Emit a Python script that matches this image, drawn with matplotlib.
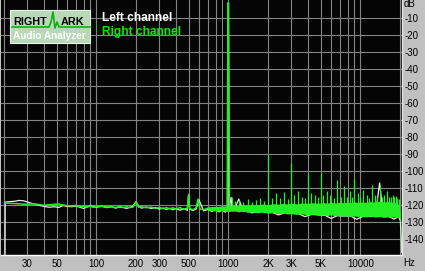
import matplotlib
matplotlib.use('Agg')
import matplotlib.pyplot as plt
from matplotlib.patches import Rectangle
from matplotlib.lines import Line2D


# _____DATA____

# left channel (white)
left_freq = [20.35, 20.4, 22, 24, 26, 28, 30, 33, 36, 40, 44, 48, 52, 56, 60, 65, 70, 75, 80, 85, 90,
             95, 100, 110, 120, 130, 140, 150, 160, 170, 180, 190, 200, 210, 220, 240, 260, 280, 300,
             320, 340, 360, 380, 400, 430, 460, 490, 500, 510, 540, 570, 600, 650, 700, 750, 800, 850,
             900, 950, 985, 1000, 1015, 1050, 1070, 1100, 1200, 1300, 1400, 1500, 1700, 1900, 2100,
             2400, 2700, 3000, 3400, 3800, 4300, 4800, 5400, 6000, 6700, 7500, 8400, 9400, 10500,
             11700, 13000, 14000, 15000, 16500, 18000, 19500, 20100, 20400, 20600]
left_db = [-149, -118.3, -118.0, -117.8, -117.3, -117.5, -118.2, -119.2, -120.0, -120.8, -121.3, -121.0,
           -121.4, -120.3, -120.8, -121.0, -120.6, -121.3, -122.0, -121.2, -120.4, -121.0, -121.3,
           -120.8, -121.5, -121.0, -121.8, -121.2, -121.5, -122.0, -121.3, -120.5, -118.0, -121.0,
           -121.8, -121.2, -122.0, -121.5, -122.4, -121.8, -122.6, -121.9, -122.8, -122.0, -123.0,
           -122.2, -123.1, -114.5, -122.5, -123.2, -122.4, -117.0, -123.4, -122.6, -123.8, -122.8,
           -124.0, -123.0, -124.2, -122.0, -1.5, -122.0, -115.5, -123.0, -123.5, -116.5, -123.6,
           -123.2, -124.6, -123.8, -124.0, -124.0, -125.8, -124.5, -125.0, -125.0, -126.8, -125.5,
           -125.8, -126.0, -127.9, -126.3, -126.5, -126.4, -128.4, -126.6, -126.7, -126.6, -107.0,
           -126.9, -126.8, -128.2, -127.0, -129.0, -138.0, -148.0]

# right channel (green), low part of the spectrum drawn as a line
right_freq = [20.3, 22, 25, 28, 30, 33, 36, 40, 44, 48, 52, 56, 60, 65, 70, 75, 80, 85, 90, 95, 100,
              110, 120, 130, 140, 150, 160, 170, 180, 190, 200, 210, 220, 240, 260, 280, 300, 320, 340,
              360, 380, 400, 430, 460, 490, 500, 510, 540, 570, 590, 610, 650, 700, 750, 800, 850, 900,
              950, 980, 990, 995, 1005, 1010, 1020]
right_db = [-118.8, -119.0, -119.2, -119.5, -119.6, -119.3, -119.6, -120.2, -119.8, -119.6, -119.4,
            -120.0, -120.4, -120.6, -120.3, -121.0, -120.7, -121.2, -120.6, -121.4, -121.0, -120.6,
            -121.2, -121.0, -121.6, -120.8, -121.4, -121.0, -121.5, -121.2, -118.2, -121.3, -121.0,
            -121.6, -121.2, -122.0, -121.4, -122.2, -121.5, -122.3, -121.6, -122.4, -121.5, -122.6,
            -121.8, -113.8, -122.0, -122.8, -121.6, -116.5, -122.3, -122.8, -121.8, -123.0, -122.0,
            -123.2, -121.8, -122.6, -121.5, -40.0, -1.0, -1.0, -40.0, -121.5]

# right channel noise band above ~700 Hz (upper and lower edge)
band_freq = [700, 800, 900, 1000, 1100, 1200, 1300, 1400, 1500, 1650, 1800, 2000, 2200, 2400, 2600,
             2800, 3000, 3300, 3600, 4000, 4400, 4800, 5200, 5600, 6000, 6500, 7000, 7500, 8000, 8500,
             9000, 9500, 10000, 11000, 12000, 13000, 14000, 15000, 16000, 17000, 18000, 19000, 19800,
             20100, 20300, 20500]
band_upper = [-121.0, -120.8, -120.5, -120.5, -119.8, -120.4, -119.6, -120.2, -119.5, -120.0, -119.4,
              -119.8, -119.2, -119.6, -119.0, -119.4, -118.8, -119.3, -118.8, -119.0, -118.6, -119.0,
              -118.5, -118.9, -118.4, -118.8, -118.3, -118.7, -118.2, -118.6, -118.1, -118.5, -118.2,
              -118.4, -118.0, -118.3, -117.8, -118.2, -117.9, -118.3, -118.5, -119.0, -120.5, -126.0,
              -135.0, -147.0]
band_lower = [-123.0, -123.5, -123.2, -123.8, -123.5, -124.0, -123.6, -124.3, -124.0, -124.6, -124.2,
              -124.8, -124.5, -125.0, -124.7, -125.3, -125.0, -125.5, -125.2, -125.8, -125.4, -126.0,
              -125.6, -126.2, -125.8, -126.4, -126.0, -126.5, -126.2, -126.7, -126.3, -126.8, -126.5,
              -127.0, -126.6, -127.1, -126.8, -127.2, -126.9, -127.3, -127.0, -127.3, -127.5, -130.0,
              -140.0, -148.0]

# right channel harmonic / spurious spikes
spike_freq = [1070, 1130, 1200, 1300, 1420, 1500, 1620, 1750, 1850, 2000, 2150, 2300, 2480, 2650,
              2820, 3000, 3150, 3350, 3600, 3800, 4000, 4200, 4500, 4750, 5000, 5250, 5600, 5900,
              6300, 6700, 7200, 7500, 7900, 8300, 8650, 9000, 9600, 10000, 10500, 11200, 11700, 12300,
              13000, 13500, 14000, 14600, 15200, 16000, 16600, 17000, 17600, 18000, 18600, 19000,
              19500]
spike_db = [-115, -117.5, -117, -118, -116.5, -118, -117, -116, -117.5, -90.5, -116, -113, -116,
            -112.5, -116.5, -95, -114, -112, -115, -116, -101, -113, -114, -115.5, -101, -114, -112,
            -114, -116, -105, -115, -109, -115.5, -112, -115, -104.5, -113, -115.5, -111, -114, -116,
            -108, -114, -115.5, -108, -115, -114, -112, -115.5, -115, -114, -115.5, -114.5, -116,
            -116.5]

x_ticks = [30, 50, 100, 200, 300, 500, 1000, 2000, 3000, 5000, 10000]
x_tick_labels = ['30', '50', '100', '200', '300', '500', '1000', '2K', '3K', '5K', '10000']
x_grid = [20, 40, 60, 70, 80, 90, 400, 600, 700, 800, 900, 4000, 6000, 7000, 8000, 9000, 20000]
y_ticks = list(range(-10, -150, -10))
y_tick_labels = ['{}'.format(v) for v in y_ticks]

W, H = 425, 271
BG = '#c0c0c0'
GREEN = '#22f022'
WHITE = '#e8e8e8'
GRID = '#848484'


def fx(px):
    # pixel x -> figure fraction
    return px / W


def fy(py):
    # pixel y -> figure fraction
    return 1 - py / H


plt.rcParams['font.family'] = ['Liberation Sans', 'DejaVu Sans']

fig = plt.figure(figsize=(W / 100, H / 100), dpi=100, facecolor=BG)
ax = fig.add_axes([fx(1), fy(255), fx(402) - fx(1), fy(0) - fy(255)])
ax.set_facecolor('#050505')
ax.set_xscale('log')
ax.set_xlim(18.96, 20700)
ax.set_ylim(-149.4, 0.6)

# grid
ax.set_xticks(x_ticks)
ax.set_xticklabels(x_tick_labels)
ax.set_xticks(x_grid, minor=True)
ax.set_yticks(y_ticks)
ax.set_yticklabels(y_tick_labels)
ax.grid(True, which='both', color=GRID, lw=0.8)
ax.set_axisbelow(True)
ax.yaxis.tick_right()
ax.tick_params(axis='both', which='both', length=0, labelsize=7, colors='black')
ax.tick_params(axis='x', pad=3)
ax.tick_params(axis='y', pad=2)
ax.xaxis.set_minor_formatter(plt.NullFormatter())
for lab in ax.get_yticklabels():
    lab.set_horizontalalignment('left')

for side in ['top', 'left']:
    ax.spines[side].set_visible(False)
ax.spines['bottom'].set_color('white')
ax.spines['right'].set_color('#e0e0e0')
ax.spines['bottom'].set_linewidth(1)
ax.spines['right'].set_linewidth(1)

# traces
ax.plot(left_freq, left_db, color=WHITE, lw=0.9, zorder=3)
ax.fill_between(band_freq, band_lower, band_upper, color=GREEN, lw=0, zorder=4)
ax.plot(right_freq, right_db, color=GREEN, lw=1.1, zorder=4)
ax.vlines(spike_freq, -121, spike_db, color=GREEN, lw=0.9, zorder=4)

# axis unit labels
fig.text(fx(404), fy(4), 'dB', fontsize=7, va='center', ha='left')
fig.text(fx(403), fy(263), 'Hz', fontsize=7, va='center', ha='left')

# legend texts
fig.text(fx(102), fy(18), 'Left channel', fontsize=8.6, fontweight='bold', color='white',
         va='center', ha='left')
fig.text(fx(102), fy(32), 'Right channel', fontsize=8.6, fontweight='bold', color='#00ee00',
         va='center', ha='left')

# logo
fig.patches.append(Rectangle((fx(10), fy(43)), fx(90) - fx(10), fy(10) - fy(43),
                             transform=fig.transFigure, facecolor='#b8d8b8', edgecolor='#e8f4e8',
                             lw=0.8, zorder=5))
fig.text(fx(13), fy(22), 'RIGHT', fontsize=7.8, fontweight='bold', color='black', va='center',
         ha='left', zorder=6)
fig.text(fx(61), fy(22), 'ARK', fontsize=7.8, fontweight='bold', color='black', va='center',
         ha='left', zorder=6)
logo_px = [12, 49, 51, 53, 55, 57, 59, 90]
logo_py = [27, 27, 22, 12, 28, 22, 27, 27]
fig.lines.append(Line2D([fx(p) for p in logo_px], [fy(p) for p in logo_py], transform=fig.transFigure,
                        color='#10b010', lw=1.2, zorder=7))
fig.text(fx(13), fy(36), 'Audio Analyzer', fontsize=7.2, fontweight='bold', color='white', va='center',
         ha='left', zorder=6)

plt.savefig('out.png', dpi=100, facecolor=BG)
